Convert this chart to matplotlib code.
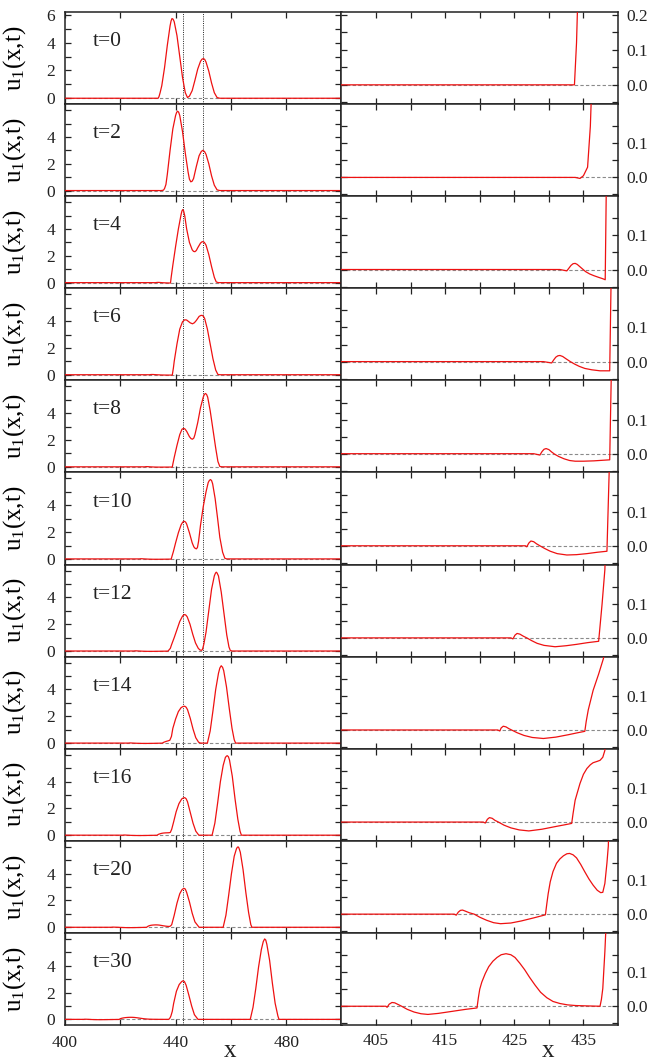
import numpy as np
import matplotlib
matplotlib.use("Agg")
from matplotlib import pyplot as plt
from matplotlib.ticker import FixedLocator, FormatStrFormatter

plt.rcParams['font.family'] = ['Liberation Serif', 'DejaVu Serif']
plt.rcParams['mathtext.fontset'] = 'custom'
plt.rcParams['mathtext.rm'] = 'Liberation Serif'
plt.rcParams['mathtext.it'] = 'Liberation Serif:italic'

# snapshots of u1(x,t)
times = [0, 2, 4, 6, 8, 10, 12, 14, 16, 20, 30]

x_t0 = [400, 433.7, 434.0, 434.4, 435, 436, 437, 438, 438.35, 438.7, 439.1, 439.5, 440.5, 441.5, 442.5,
        443.5, 444.3, 445, 446, 447, 448, 449, 449.5, 450, 450.5, 451, 452, 453, 454, 455, 456, 500]
u_t0 = [0, 0, 0.12, 0.4, 0.9, 2.2, 3.8, 5.2, 5.55, 5.73, 5.68, 5.5, 4.5, 3.0, 1.5,
        0.4, 0.05, 0.15, 0.55, 1.3, 2.1, 2.65, 2.8, 2.85, 2.8, 2.6, 1.95, 1.1, 0.4, 0.05, 0, 0]

x_t2 = [400, 433.8, 434.5, 435.0, 435.6, 436.0, 436.5, 437, 438, 439, 440, 440.35, 440.7, 441.1, 441.5,
        442.5, 443.5, 444.5, 445.0, 445.5, 446.0, 446.5, 447.5, 448.5, 449.3, 449.9, 450.5, 451, 452, 453,
        454, 455, 456, 500]
u_t2 = [0, 0, -0.003, 0.005, 0.03, 0.15, 0.45, 1.2, 3.0, 4.6, 5.6, 5.82, 5.92, 5.85, 5.6,
        4.4, 2.8, 1.4, 0.85, 0.65, 0.7, 0.9, 1.8, 2.6, 2.92, 3.0, 2.9, 2.7, 2.0, 1.1,
        0.4, 0.05, 0, 0]

x_t4 = [400, 431.6, 432.6, 432.9, 433.2, 433.5, 433.8, 434.1, 434.5, 434.9, 435.3, 435.9, 436.5, 437.2,
        437.8, 438.15, 438.4, 439, 440, 441, 442, 442.3, 442.6, 442.9, 443.3, 444, 445, 446, 446.5, 447,
        447.5, 448, 449, 449.5, 449.9, 450.4, 451, 452, 453, 454, 454.7, 455.5, 500]
u_t4 = [0, 0, -0.004, 0.004, 0.012, 0.017, 0.018, 0.015, 0.008, 0.001, -0.006, -0.013, -0.018, -0.023,
        -0.027, -0.03, 0.4, 1.3, 2.7, 4.0, 5.1, 5.35, 5.45, 5.35, 5.0, 4.0, 3.0, 2.45, 2.33, 2.31,
        2.4, 2.6, 2.95, 3.04, 3.06, 3.0, 2.8, 2.1, 1.2, 0.4, 0.05, 0, 0]

x_t6 = [400, 429.2, 430.4, 430.7, 431.0, 431.3, 431.6, 432.0, 432.5, 433.1, 433.7, 434.4, 435.2, 436.2,
        437.4, 438.8, 439.2, 439.5, 440.5, 441.5, 442.5, 443.3, 444.0, 444.5, 445.3, 446.1, 446.8, 447.5,
        448.5, 449.1, 449.6, 450.1, 450.5, 451.5, 452.5, 453.5, 454.5, 455.3, 456, 500]
u_t6 = [0, 0, -0.004, 0.005, 0.013, 0.017, 0.018, 0.015, 0.008, 0, -0.007, -0.014, -0.02, -0.024,
        -0.027, -0.027, 0.5, 1.0, 2.3, 3.4, 3.95, 4.1, 4.08, 4.0, 3.87, 3.8, 3.88, 4.05,
        4.35, 4.42, 4.43, 4.35, 4.2, 3.4, 2.3, 1.2, 0.35, 0.02, 0, 0]

x_t8 = [400, 427.8, 428.7, 429.0, 429.3, 429.6, 430.0, 430.4, 430.8, 431.4, 432.2, 433.0, 433.8, 435, 436.5,
        438, 438.8, 439.0, 439.5, 440.5, 441.5, 442.3, 442.7, 443, 443.4, 444, 445, 445.6, 446.1, 446.6,
        447, 448, 449, 450, 450.4, 450.8, 451.2, 451.6, 452.5, 453.5, 454.5, 455.3, 456, 457, 500]
u_t8 = [0, 0, -0.004, 0.006, 0.013, 0.015, 0.012, 0.005, -0.001, -0.008, -0.015, -0.02, -0.022, -0.022, -0.021,
        -0.019, -0.018, 0.2, 0.7, 1.6, 2.4, 2.8, 2.85, 2.86, 2.82, 2.65, 2.25, 2.1, 2.06, 2.15,
        2.4, 3.3, 4.4, 5.2, 5.4, 5.47, 5.4, 5.2, 4.2, 2.8, 1.4, 0.4, 0.02, 0, 0]

x_t10 = [400, 426.6, 426.8, 427.1, 427.4, 427.8, 428.2, 428.7, 429.4, 430.2, 431.2, 432.6, 434, 435.5,
         437, 438.4, 438.7, 439.2, 440, 441, 442, 442.6, 443.1, 443.6, 444, 445, 446, 446.6, 447,
         447.5, 447.9, 448.3, 449, 450, 451, 451.8, 452.2, 452.6, 453.0, 453.4, 454.3, 455.2, 456,
         457, 457.8, 458.5, 500]
u_t10 = [0, 0, -0.003, 0.008, 0.014, 0.012, 0.006, 0, -0.008, -0.016, -0.023, -0.027, -0.026, -0.023,
         -0.019, -0.016, 0.2, 0.55, 1.2, 1.95, 2.55, 2.75, 2.81, 2.75, 2.6, 1.95, 1.2, 0.9, 0.8,
         0.75, 0.85, 1.3, 2.5, 3.9, 5.0, 5.7, 5.85, 5.92, 5.85, 5.6, 4.5, 3.0, 1.6,
         0.5, 0.05, 0, 0]

x_t12 = [400, 424.5, 424.8, 425.1, 425.4, 425.8, 426.3, 426.8, 427.5, 428.3, 429.3, 430.9, 432.5, 434,
         435.6, 437.2, 437.7, 438.1, 438.5, 439.5, 440.5, 441.5, 442.5, 442.9, 443.3, 443.7, 444.2,
         445.2, 446.2, 447.2, 448.2, 448.8, 449.3, 449.7, 450.2, 451, 452, 453, 454, 454.4, 454.7,
         455.0, 455.5, 456.5, 457.5, 458.5, 459.3, 459.8, 460.5, 500]
u_t12 = [0, 0, -0.003, 0.008, 0.013, 0.011, 0.005, 0, -0.008, -0.016, -0.022, -0.026, -0.023, -0.019,
         -0.014, -0.01, 0.1, 0.2, 0.45, 1.0, 1.6, 2.2, 2.6, 2.68, 2.72, 2.68, 2.55,
         2.0, 1.25, 0.6, 0.2, 0.08, 0.05, 0.1, 0.5, 1.4, 3.0, 4.6, 5.6, 5.8, 5.88,
         5.82, 5.6, 4.4, 2.8, 1.2, 0.3, 0.03, 0, 0]

x_t14 = [400, 422.6, 422.9, 423.1, 423.4, 423.8, 424.2, 424.6, 425.4, 426.4, 427.6, 429.2, 431, 432.8,
         434.2, 435.2, 435.4, 435.7, 436.4, 437.2, 437.9, 438.5, 439, 440, 441, 442, 442.7, 443.3,
         443.8, 444.3, 445.3, 446.3, 447.3, 448.3, 449, 451.5, 452.5, 453.5, 454.5, 455.5, 456.0,
         456.5, 457.0, 457.4, 458.4, 459.4, 460.4, 461.2, 461.7, 500]
u_t14 = [0, 0, -0.003, 0.006, 0.011, 0.009, 0.004, 0, -0.008, -0.016, -0.022, -0.025, -0.021, -0.014,
         -0.008, -0.004, 0.025, 0.059, 0.116, 0.164, 0.21, 0.5, 1.1, 1.8, 2.35, 2.65, 2.73, 2.75,
         2.68, 2.5, 1.85, 1.05, 0.4, 0.07, 0, 0, 0.9, 2.4, 4.0, 5.2, 5.6,
         5.77, 5.65, 5.4, 4.2, 2.6, 1.1, 0.25, 0, 0]

x_t16 = [400, 420.5, 420.8, 421.1, 421.4, 421.8, 422.2, 422.7, 423.5, 424.5, 425.7, 427.1, 429, 431,
         432.3, 433.3, 433.5, 433.8, 434.5, 435.0, 435.5, 436.0, 436.4, 437.0, 437.4, 437.8, 438.1,
         438.6, 439.3, 440.2, 441.2, 442.2, 442.8, 443.3, 443.8, 444.3, 445.3, 446.3, 447.3, 448.4,
         453.2, 454.2, 455.2, 456.2, 457.2, 458, 458.4, 458.7, 459.1, 459.5, 460.5, 461.5, 462.5,
         463.3, 463.8, 500]
u_t16 = [0, 0, -0.003, 0.008, 0.013, 0.011, 0.005, 0, -0.009, -0.017, -0.023, -0.026, -0.021, -0.013,
         -0.008, -0.004, 0.025, 0.064, 0.113, 0.14, 0.157, 0.168, 0.174, 0.178, 0.181, 0.19, 0.21,
         0.45, 1.0, 1.75, 2.35, 2.7, 2.78, 2.8, 2.72, 2.5, 1.7, 0.9, 0.3, 0,
         0, 0.9, 2.4, 4.0, 5.2, 5.8, 5.9, 5.93, 5.85, 5.6, 4.4, 2.7, 1.2,
         0.3, 0, 0]

x_t20 = [400, 416.3, 416.6, 416.9, 417.2, 417.5, 417.9, 418.5, 419.2, 420, 421, 422, 423, 424.5, 426,
         427.8, 429.5, 429.7, 429.9, 430.2, 430.6, 431.1, 431.6, 432.1, 432.6, 433.0, 433.5, 434.0,
         434.6, 435.2, 435.8, 436.4, 437.0, 437.5, 437.8, 438.1, 438.4, 438.6, 439.5, 440.5, 441.5,
         442.3, 442.7, 443.1, 443.5, 444, 445, 446, 447, 448.5, 457.2, 458.2, 459.2, 460.2, 461.2,
         462, 462.3, 462.6, 462.9, 463.4, 464.4, 465.4, 466.4, 467.2, 467.6, 500]
u_t20 = [0, 0, -0.003, 0.006, 0.011, 0.012, 0.009, 0.004, 0, -0.009, -0.018, -0.025, -0.028, -0.026, -0.02,
         -0.011, -0.002, 0.03, 0.06, 0.095, 0.125, 0.149, 0.162, 0.171, 0.177, 0.178, 0.174, 0.165,
         0.146, 0.124, 0.103, 0.085, 0.07, 0.063, 0.064, 0.09, 0.15, 0.2, 0.9, 1.8, 2.5,
         2.8, 2.87, 2.9, 2.85, 2.6, 1.9, 1.05, 0.4, 0, 0, 0.9, 2.4, 4.0, 5.3,
         5.85, 5.96, 6.0, 5.92, 5.6, 4.3, 2.6, 1.1, 0.2, 0, 0]

x_t30 = [400, 406.4, 406.6, 406.9, 407.3, 407.7, 408.2, 408.7, 409.5, 410.5, 411.5, 412.5, 414, 416,
         418, 419.6, 419.8, 420.0, 420.3, 420.8, 421.3, 421.9, 422.5, 423.1, 423.8, 424.5, 425.1,
         425.8, 426.5, 427.2, 428.0, 428.8, 429.7, 430.6, 431.6, 432.7, 433.9, 435.5, 437.4, 437.6,
         437.8, 438.1, 438.3, 438.8, 439.3, 440.3, 441.3, 442.2, 442.7, 443.2, 443.8, 444.8, 445.8,
         446.8, 448.1, 467, 468, 469, 470, 471, 471.7, 472.2, 472.6, 473, 474, 475, 476, 477, 477.4,
         500]
u_t30 = [0, 0, -0.003, 0.006, 0.011, 0.01, 0.005, 0, -0.009, -0.017, -0.022, -0.024, -0.021, -0.015,
         -0.009, -0.005, 0.025, 0.05, 0.071, 0.096, 0.116, 0.132, 0.143, 0.151, 0.154, 0.151, 0.143,
         0.126, 0.107, 0.085, 0.062, 0.041, 0.025, 0.014, 0.008, 0.004, 0.002, 0.001, 0, 0.02,
         0.052, 0.16, 0.25, 0.6, 1.2, 2.1, 2.6, 2.82, 2.88, 2.82, 2.55, 1.8, 1.0,
         0.35, 0, 0, 0.9, 2.3, 3.9, 5.2, 5.8, 6.0, 5.92, 5.6, 4.4, 2.7, 1.2, 0.25, 0,
         0]

xs = [x_t0, x_t2, x_t4, x_t6, x_t8, x_t10, x_t12, x_t14, x_t16, x_t20, x_t30]
us = [u_t0, u_t2, u_t4, u_t6, u_t8, u_t10, u_t12, u_t14, u_t16, u_t20, u_t30]

# reference positions of the two initial pulses
x_marks = [442.7, 450.0]

W, H = 649, 1060
fig = plt.figure(figsize=(W / 100, H / 100), dpi=100)
gs = fig.add_gridspec(len(times), 2, left=65 / W, right=618 / W, top=1 - 12 / H,
                      bottom=1 - 1025 / H, hspace=0, wspace=0)

tick_kw = dict(which='both', direction='in', length=4, width=0.9, top=True, bottom=True,
               left=True, right=True, labelsize=12.5, colors='#222')

for i, t in enumerate(times):
    first = i == 0
    last = i == len(times) - 1
    axl = fig.add_subplot(gs[i, 0])
    axr = fig.add_subplot(gs[i, 1])

    for ax in (axl, axr):
        ax.axhline(0, color='#8a8a8a', lw=0.8, ls=(0, (3, 2)), zorder=1)
        ax.plot(xs[i], us[i], color='#ee1111', lw=0.9, zorder=3)
        for s in ax.spines.values():
            s.set_linewidth(1.1)
            s.set_color('#222')
        ax.tick_params(**tick_kw)

    # full profile
    for xm in x_marks:
        axl.axvline(xm, color='#222', lw=0.7, ls=(0, (1, 1.3)), zorder=2)
    axl.set_xlim(400, 500)
    axl.set_ylim(-0.42, 6.2 if first else 6.45)
    axl.xaxis.set_major_locator(FixedLocator([400, 440, 480]))
    axl.xaxis.set_minor_locator(FixedLocator([420, 460, 500]))
    axl.yaxis.set_major_locator(FixedLocator([0, 2, 4, 6] if first else [0, 2, 4]))
    axl.yaxis.set_minor_locator(FixedLocator([1, 3, 5] if first else [1, 3, 5, 6]))
    axl.tick_params(axis='y', pad=7)
    axl.tick_params(labelbottom=last, pad=7)
    axl.set_ylabel(r'u$_\mathrm{1}$(x,t)', fontsize=18)
    axl.yaxis.set_label_coords(-0.135, 0.5)
    axl.text(0.1, 0.63, 't=%d' % t, transform=axl.transAxes, fontsize=15.5,
             va='baseline', ha='left', color='#222')

    # zoom on the leading tail
    axr.set_xlim(400, 440)
    axr.set_ylim(-0.055, 0.208 if first else 0.215)
    axr.xaxis.set_major_locator(FixedLocator([405, 415, 425, 435]))
    axr.xaxis.set_minor_locator(FixedLocator([410, 420, 430]))
    axr.yaxis.set_major_locator(FixedLocator([0.0, 0.1, 0.2] if first else [0.0, 0.1]))
    axr.yaxis.set_minor_locator(FixedLocator([-0.05, 0.05, 0.15]))
    axr.yaxis.set_major_formatter(FormatStrFormatter('%.1f'))
    axr.tick_params(labelleft=False, labelright=True, labelbottom=last, pad=6)

fig.text(230 / W, 1 - 1057 / H, 'x', fontsize=18, ha='center', va='baseline', color='#222')
fig.text(548 / W, 1 - 1057 / H, 'x', fontsize=18, ha='center', va='baseline', color='#222')

fig.savefig('out.png', dpi=100)
